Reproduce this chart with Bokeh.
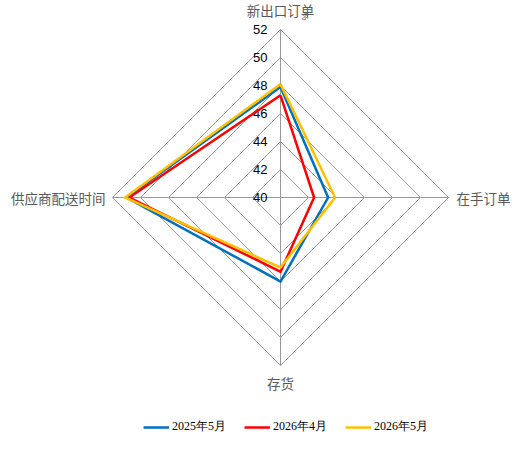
import math
from bokeh.plotting import figure
from bokeh.models import Range1d, Legend, LegendItem
from bokeh.core.properties import value
from bokeh.embed import file_html
from bokeh.resources import INLINE

# ---- data ----
categories = ["新出口订单", "在手订单", "存货", "供应商配送时间"]
series_names = ["2025年5月", "2026年4月", "2026年5月"]
s2025_05 = [47.9, 43.4, 46.0, 51.0]
s2026_04 = [47.3, 42.4, 45.3, 50.8]
s2026_05 = [48.1, 43.9, 45.0, 51.1]
tick_values = [40, 42, 44, 46, 48, 50, 52]
tick_labels = ["40", "42", "44", "46", "48", "50", "52"]
unit_label = "%"

colors = ["#0070C0", "#FF0000", "#FFC000"]
r_min, r_max = 40, 52
R = 168.0  # radius in px-units
angles = [math.pi / 2, 0.0, -math.pi / 2, math.pi]  # top, right, bottom, left


def to_xy(vals):
    xs, ys = [], []
    for v, a in zip(vals, angles):
        r = (v - r_min) / (r_max - r_min) * R
        xs.append(r * math.cos(a))
        ys.append(r * math.sin(a))
    return xs + xs[:1], ys + ys[:1]


W, H = 512, 438
cx, cy = 280, 197  # center in figure px (from left, from top)
p = figure(width=W, height=H, output_backend="svg", toolbar_location=None,
           x_range=Range1d(-cx, W - cx), y_range=Range1d(-(H - cy), cy),
           min_border=0)
p.axis.visible = False
p.grid.visible = False
p.outline_line_color = None
p.background_fill_color = "white"

grid_col = "#999999"
# rings
for t in tick_values[1:]:
    xs, ys = to_xy([t] * 4)
    p.line(xs, ys, line_color=grid_col, line_width=1)
# spokes
xs_o, ys_o = to_xy([r_max] * 4)
for i in range(4):
    p.line([0, xs_o[i]], [0, ys_o[i]], line_color=grid_col, line_width=1)

# tick labels
tick_y = [(t - r_min) / (r_max - r_min) * R for t in tick_values]
p.text(x=[-13] * len(tick_values), y=tick_y, text=tick_labels,
       text_align="right", text_baseline="middle",
       text_font=value("Liberation Sans"), text_font_size="13px",
       text_color="#000000")

cat_font = value("Noto Sans CJK SC")
cat_size = "13.5px"
cat_col = "#595959"
p.text(x=[0], y=[R + 10], text=[categories[0]], text_align="center",
       text_baseline="bottom", text_font=cat_font,
       text_font_size=cat_size, text_color=cat_col)
p.text(x=[R + 8], y=[0], text=[categories[1]], text_align="left",
       text_baseline="middle", text_font=cat_font,
       text_font_size=cat_size, text_color=cat_col)
p.text(x=[0], y=[-R - 7], text=[categories[2]], text_align="center",
       text_baseline="top", text_font=cat_font,
       text_font_size=cat_size, text_color=cat_col)
p.text(x=[-R - 7], y=[0], text=[categories[3]], text_align="right",
       text_baseline="middle", text_font=cat_font,
       text_font_size=cat_size, text_color=cat_col)
p.text(x=[24], y=[R + 13], text=[unit_label], text_align="center",
       text_baseline="middle", angle=-math.pi / 2,
       text_font=value("Liberation Sans"), text_font_size="9px",
       text_color="#595959")

# series
items = []
for name, vals, col in zip(series_names, [s2025_05, s2026_04, s2026_05], colors):
    xs, ys = to_xy(vals)
    r = p.line(xs, ys, line_color=col, line_width=2.5, line_join="miter")
    items.append(LegendItem(label=name, renderers=[r]))

legend = Legend(items=items, orientation="horizontal", location=(143, 3),
                glyph_width=26, glyph_height=12, label_height=12,
                label_standoff=3, spacing=18, padding=0, margin=0,
                border_line_alpha=0, background_fill_alpha=0,
                label_text_font="Liberation Serif", label_text_font_size="12px",
                label_text_color="#000000")
p.add_layout(legend)

open("out.html", "w").write(file_html(p, INLINE))
